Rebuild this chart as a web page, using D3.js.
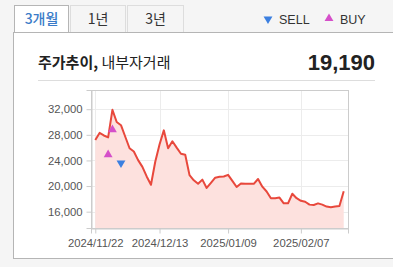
<!DOCTYPE html>
<html>
<head>
<meta charset="utf-8">
<script src="https://cdn.jsdelivr.net/npm/d3@7"></script>
<style>
  body { margin: 0; background: #f5f5f5; }
  svg { display: block; font-family: "Liberation Sans", Arial, sans-serif; }
</style>
</head>
<body>
<div id="vis"></div>
<script>
const FRAME_WIDTH = 393;
const FRAME_HEIGHT = 267;
const PLOT = {left: 91, right: 348, top: 90, bottom: 228};

// trading days, 2024/11/22 .. 2025/02/21
const dates = [
  "2024/11/22","2024/11/25","2024/11/26","2024/11/27","2024/11/28","2024/11/29",
  "2024/12/02","2024/12/03","2024/12/04","2024/12/05","2024/12/06",
  "2024/12/09","2024/12/10","2024/12/11","2024/12/12","2024/12/13",
  "2024/12/16","2024/12/17","2024/12/18","2024/12/19","2024/12/20",
  "2024/12/23","2024/12/24","2024/12/26","2024/12/27","2024/12/30",
  "2025/01/02","2025/01/03","2025/01/06","2025/01/07","2025/01/08","2025/01/09","2025/01/10",
  "2025/01/13","2025/01/14","2025/01/15","2025/01/16","2025/01/17",
  "2025/01/20","2025/01/21","2025/01/22","2025/01/23","2025/01/24","2025/01/31",
  "2025/02/03","2025/02/04","2025/02/05","2025/02/06","2025/02/07",
  "2025/02/10","2025/02/11","2025/02/12","2025/02/13","2025/02/14",
  "2025/02/17","2025/02/18","2025/02/19","2025/02/20","2025/02/21"
];
const prices = [
  27200, 28300, 27900, 27600, 31900, 30000,
  29500, 27700, 25900, 25400, 24050,
  23000, 21500, 20200, 23800, 26500,
  28700, 25900, 27000, 26000, 25050,
  24900, 21700, 20900, 20350, 21000,
  19700, 20500, 21300, 21450, 21500, 21750, 20800,
  19850, 20400, 20350, 20350, 20350,
  21100, 19900, 19150, 18100, 18100, 18200,
  17300, 17300, 18800, 18100, 17700,
  17550, 17100, 17050, 17300, 17100,
  16800, 16700, 16800, 16900, 19190
];

const buyDates = ["2024/11/27", "2024/11/28"];
const buyPrices = [24900, 28800];
const sellDates = ["2024/12/02"];
const sellPrices = [23600];

const yTicks = [16000, 20000, 24000, 28000, 32000];
const xTicks = ["2024/11/22", "2024/12/13", "2025/01/09", "2025/02/07"];
const tabs = ["3개월", "1년", "3년"];
const lastPrice = "19,190";

const svg = d3.select("#vis")
  .append("svg")
    .attr("width", FRAME_WIDTH)
    .attr("height", FRAME_HEIGHT);

// tabs
const TAB_X = [14, 70, 127];
const TAB_W = [54, 55, 56];
tabs.forEach((t, i) => {
  const sel = i === 0;
  svg.append("rect")
    .attr("x", TAB_X[i] + 0.5).attr("y", 5.5)
    .attr("width", TAB_W[i]).attr("height", 27)
    .attr("fill", sel ? "#ffffff" : "#f5f5f5")
    .attr("stroke", sel ? "#b5b5b5" : "#dddddd");
  svg.append("text")
    .attr("x", TAB_X[i] + TAB_W[i] / 2 + 0.5).attr("y", 24)
    .attr("text-anchor", "middle")
    .attr("font-family", "'Noto Sans CJK KR', sans-serif")
    .attr("font-size", 14)
    .attr("font-weight", sel ? 500 : 400)
    .attr("fill", sel ? "#3a7bc8" : "#333")
    .text(t);
});

// legend
const SYM = d3.symbol().type(d3.symbolTriangle).size(34);
svg.append("path").attr("d", SYM())
  .attr("transform", "translate(268,19) rotate(180)")
  .attr("fill", "#3b7fe0");
svg.append("text").attr("x", 279).attr("y", 24)
  .attr("font-size", 12.5).attr("fill", "#333").text("SELL");
svg.append("path").attr("d", SYM())
  .attr("transform", "translate(329,18.5)")
  .attr("fill", "#d54fc9");
svg.append("text").attr("x", 340).attr("y", 24)
  .attr("font-size", 12.5).attr("fill", "#333").text("BUY");

// panel
svg.append("rect")
  .attr("x", 13.5).attr("y", 32.5)
  .attr("width", 400).attr("height", 226)
  .attr("fill", "#ffffff")
  .attr("stroke", "#b5b5b5");

// header
const title = svg.append("text")
  .attr("x", 38).attr("y", 68)
  .attr("font-family", "'Noto Sans CJK KR', sans-serif")
  .attr("font-size", 15).attr("fill", "#222");
title.append("tspan").attr("font-weight", "bold").text("주가추이,");
title.append("tspan").text(" 내부자거래");

svg.append("text")
  .attr("x", 375).attr("y", 70)
  .attr("text-anchor", "end")
  .attr("font-size", 22).attr("font-weight", "bold")
  .attr("fill", "#222")
  .text(lastPrice);

svg.append("line")
  .attr("x1", 38).attr("x2", 375).attr("y1", 80.5).attr("y2", 80.5)
  .attr("stroke", "#dddddd");

// scales
const X_SCALE = d3.scalePoint()
  .domain(dates)
  .range([PLOT.left, PLOT.right])
  .padding(1);

const Y_SCALE = d3.scaleLinear()
  .domain([13450, 35000])
  .range([PLOT.bottom, PLOT.top]);

// grid
svg.append("g").selectAll("line")
  .data(yTicks).enter().append("line")
    .attr("x1", PLOT.left).attr("x2", PLOT.right)
    .attr("y1", d => Math.round(Y_SCALE(d)) + 0.5)
    .attr("y2", d => Math.round(Y_SCALE(d)) + 0.5)
    .attr("stroke", "#ececec");
svg.append("g").selectAll("line")
  .data(xTicks).enter().append("line")
    .attr("x1", d => Math.round(X_SCALE(d)) + 0.5)
    .attr("x2", d => Math.round(X_SCALE(d)) + 0.5)
    .attr("y1", PLOT.top).attr("y2", PLOT.bottom)
    .attr("stroke", "#ececec");

// area + line
const area = d3.area()
  .x((d, i) => X_SCALE(dates[i]))
  .y0(PLOT.bottom)
  .y1(d => Y_SCALE(d));
svg.append("path")
  .datum(prices)
  .attr("d", area)
  .attr("fill", "#fde1de");

const line = d3.line()
  .x((d, i) => X_SCALE(dates[i]))
  .y(d => Y_SCALE(d));
svg.append("path")
  .datum(prices)
  .attr("d", line)
  .attr("fill", "none")
  .attr("stroke", "#e8483c")
  .attr("stroke-width", 2)
  .attr("stroke-linejoin", "round");

// plot border
svg.append("rect")
  .attr("x", PLOT.left + 0.5).attr("y", PLOT.top + 0.5)
  .attr("width", PLOT.right - PLOT.left).attr("height", PLOT.bottom - PLOT.top)
  .attr("fill", "none")
  .attr("stroke", "#cccccc");

// axes
const yAxis = d3.axisLeft(Y_SCALE)
  .tickValues(yTicks)
  .tickSize(5)
  .tickPadding(4)
  .tickFormat(d3.format(","));
const gy = svg.append("g")
  .attr("transform", `translate(${PLOT.left + 0.5},0)`)
  .call(yAxis);

const xAxis = d3.axisBottom(X_SCALE)
  .tickValues(xTicks)
  .tickSize(5)
  .tickPadding(5);
const gx = svg.append("g")
  .attr("transform", `translate(0,${PLOT.bottom + 0.5})`)
  .call(xAxis);

[gx, gy].forEach(g => {
  g.select(".domain").attr("stroke", "#cccccc");
  g.selectAll(".tick line").attr("stroke", "#cccccc");
  g.selectAll(".tick text")
    .attr("fill", "#555")
    .attr("font-size", 11.3)
    .attr("font-family", "'Liberation Sans', Arial, sans-serif");
});

// insider trades
svg.append("g").selectAll("path")
  .data(buyDates).enter().append("path")
    .attr("d", SYM())
    .attr("transform", (d, i) => `translate(${X_SCALE(d)},${Y_SCALE(buyPrices[i])})`)
    .attr("fill", "#d54fc9");
svg.append("g").selectAll("path")
  .data(sellDates).enter().append("path")
    .attr("d", SYM())
    .attr("transform", (d, i) => `translate(${X_SCALE(d)},${Y_SCALE(sellPrices[i])}) rotate(180)`)
    .attr("fill", "#3b7fe0");
</script>
</body>
</html>
